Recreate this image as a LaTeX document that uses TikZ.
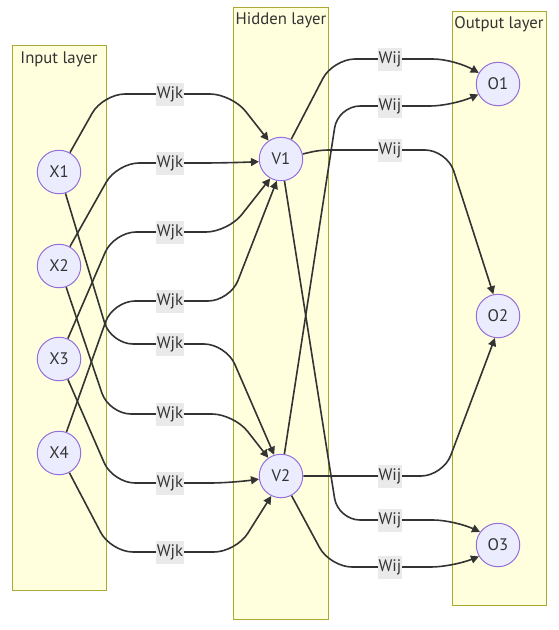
\documentclass[tikz,border=0pt]{standalone}
\usepackage{fontspec}
\setmainfont{PT Sans}
\usetikzlibrary{arrows.meta}
\definecolor{clfill}{HTML}{FFFFDE}
\definecolor{cldraw}{HTML}{AAAA33}
\definecolor{nfill}{HTML}{ECECFF}
\definecolor{ndraw}{HTML}{9370DB}
\definecolor{ink}{HTML}{333333}
\definecolor{lblbg}{HTML}{EAEAEA}
\pgfdeclarelayer{back}
\pgfdeclarelayer{edges}
\pgfsetlayers{back,edges,main}
\begin{document}
\begin{tikzpicture}[x=1pt,y=-1pt,
  font=\fontsize{16.7}{20}\selectfont, text=ink,
  cluster/.style={fill=clfill,draw=cldraw,line width=1pt},
  neuron/.style={circle,fill=nfill,draw=ndraw,line width=1pt,minimum size=43.5pt,inner sep=0pt},
  edge/.style={draw=ink,line width=1.6pt,rounded corners=22pt,-{Triangle[length=8pt,width=8pt]}},
  lbl/.style={fill=lblbg,inner xsep=0.5pt,inner ysep=0pt,minimum height=23pt},
  ttl/.style={inner sep=0pt}]
\useasboundingbox (0,0) rectangle (559,630);
% clusters
\begin{pgfonlayer}{back}
  \draw[cluster] (12,45) rectangle (106,590);
  \draw[cluster] (233,7) rectangle (328,619);
  \draw[cluster] (452,11) rectangle (546,605);
\end{pgfonlayer}
\node[ttl] (tin)  at (59,59.5) {Input layer};
\node[ttl] (thid) at (281,20.5) {Hidden layer};
\node[ttl] (tout) at (499,24.5) {Output layer};
% neurons
\node[neuron] (X1) at (59,172) {X1};
\node[neuron] (X2) at (59,266) {X2};
\node[neuron] (X3) at (59,359) {X3};
\node[neuron] (X4) at (59,453) {X4};
\node[neuron] (V1) at (281,159) {V1};
\node[neuron] (V2) at (281,476) {V2};
\node[neuron] (O1) at (498,84) {O1};
\node[neuron] (O2) at (498,316) {O2};
\node[neuron] (O3) at (498,545) {O3};
% edges
\begin{pgfonlayer}{edges}
  \draw[edge] (X1) -- (103,94) -- (232,94) -- (V1.124);
  \draw[edge] (X2) -- (117,163) -- (224,163) -- (V1.187);
  \draw[edge] (X3) -- (114,232) -- (228,232) -- (V1.241);
  \draw[edge] (X4) -- (113,301) -- (230,301) -- (V1.259);
  \draw[edge] (X1) -- (111,344) -- (226,344) -- (V2.108);
  \draw[edge] (X2) -- (109,414) -- (234,414) -- (V2.125);
  \draw[edge] (X3) -- (113,483) -- (232,483) -- (V2.188);
  \draw[edge] (X4) -- (111,552) -- (236,552) -- (V2.244);
  \draw[edge] (V1) -- (333,59) -- (455,59) -- (O1.150);
  \draw[edge] (V2) -- (338,106) -- (452,106) -- (O1.208);
  \draw[edge,rounded corners=8pt] (V1) -- (320,150) [rounded corners=22pt] -- (447,150) -- (O2.102);
  \draw[edge] (V2) -- (443,476) -- (O2.262);
  \draw[edge] (V1) -- (338,520) -- (455,520) -- (O3.144);
  \draw[edge] (V2) -- (330,567) -- (453,567) -- (O3.211);
\end{pgfonlayer}
% labels
\node[lbl] (l1) at (170,94) {Wjk};
\node[lbl] (l2) at (170,163) {Wjk};
\node[lbl] (l3) at (170,232) {Wjk};
\node[lbl] (l4) at (170,301) {Wjk};
\node[lbl] (l5) at (170,344) {Wjk};
\node[lbl] (l6) at (170,414) {Wjk};
\node[lbl] (l7) at (170,483) {Wjk};
\node[lbl] (l8) at (170,552) {Wjk};
\node[lbl] (m1) at (390,59) {Wij};
\node[lbl] (m2) at (390,106) {Wij};
\node[lbl] (m3) at (390,150) {Wij};
\node[lbl] (m4) at (390,476) {Wij};
\node[lbl] (m5) at (390,520) {Wij};
\node[lbl] (m6) at (390,567) {Wij};
\end{tikzpicture}
\end{document}
